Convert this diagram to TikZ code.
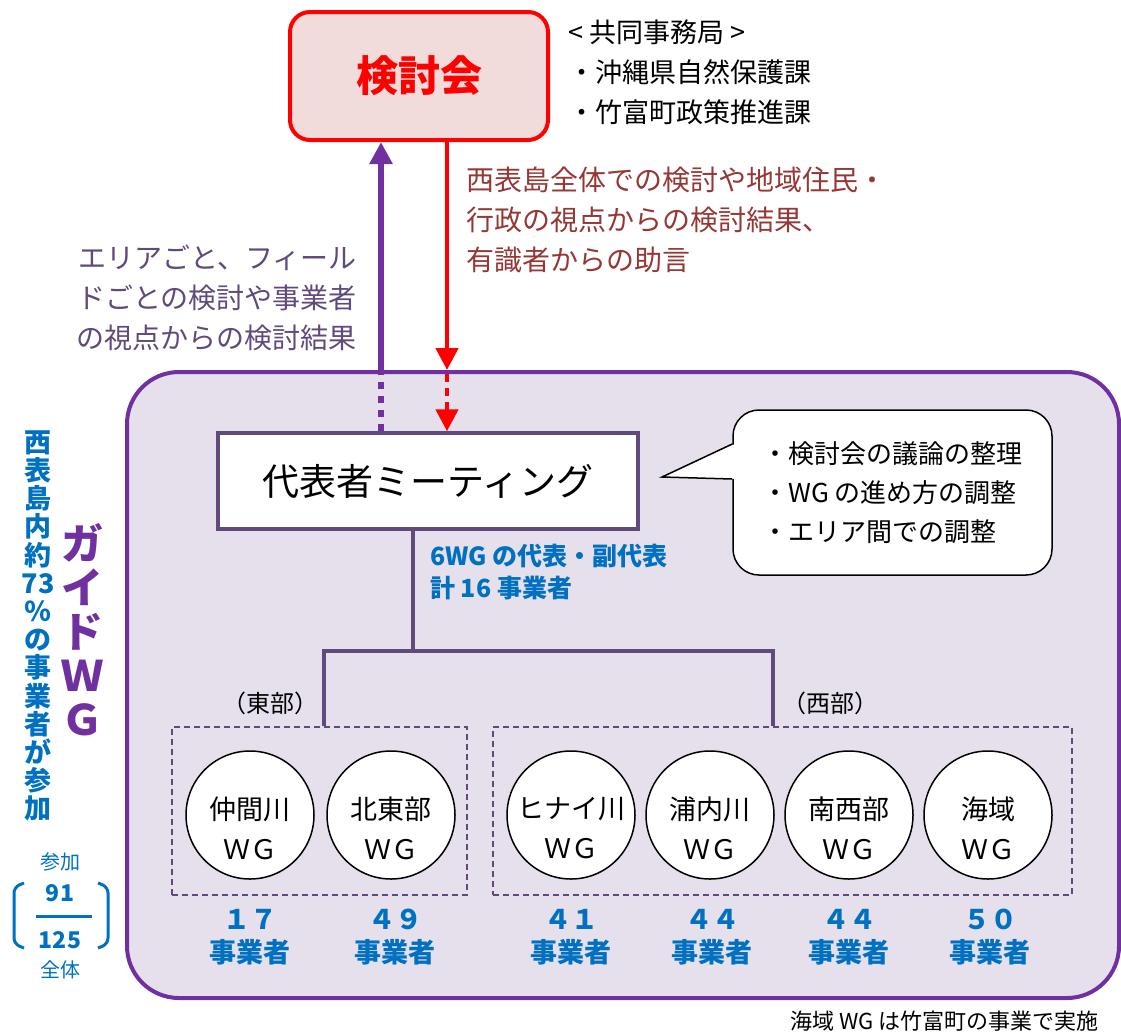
\documentclass[tikz,border=0pt]{standalone}
\usepackage{fontspec}
\setmainfont{Noto Sans CJK JP}
\usetikzlibrary{arrows.meta,positioning}

\definecolor{kenred}{HTML}{FF0000}
\definecolor{kenpink}{HTML}{F2DCDB}
\definecolor{guidepurple}{HTML}{7030A0}
\definecolor{framegray}{HTML}{604A7B}
\definecolor{areafill}{HTML}{E5E0EC}
\definecolor{wgblue}{HTML}{0070C0}
\definecolor{resultbrown}{HTML}{953735}

\begin{document}
\begin{tikzpicture}[
        x=1pt, y=-1pt,
        font=\fontsize{24}{28}\selectfont,
        ken_box/.style={
            draw=kenred, fill=kenpink,
            line width=4pt,
            rounded corners=20pt,
            minimum width=258pt, minimum height=128pt,
            text=kenred,
            font=\fontsize{42}{46}\selectfont\bfseries
        },
        area_box/.style={
            draw=guidepurple, fill=areafill,
            line width=4pt,
            rounded corners=52pt,
            minimum width=992pt, minimum height=626pt
        },
        mtg_box/.style={
            draw=framegray, fill=white,
            line width=3.5pt,
            minimum width=420pt, minimum height=96pt,
            font=\fontsize{37}{40}\selectfont
        },
        bubble_box/.style={
            draw=black, fill=white,
            line width=1.5pt,
            rounded corners=26pt,
            minimum width=319pt, minimum height=165pt,
            align=left,
            font=\fontsize{26}{39}\selectfont
        },
        part_box/.style={
            draw=framegray,
            dash pattern=on 6pt off 4pt,
            line width=2pt,
            minimum height=168pt
        },
        wg_circle/.style={
            draw=black, fill=white,
            circle,
            line width=1.5pt,
            minimum size=128pt,
            inner sep=0pt
        },
        wg_text/.style={
            align=center,
            font=\fontsize{27}{40}\selectfont
        },
        count_label/.style={
            text=wgblue, align=center,
            font=\fontsize{27}{33}\selectfont\bfseries
        },
        side_text/.style={
            align=left, anchor=west, inner sep=0pt,
            font=\fontsize{27}{40}\selectfont
        },
        tree_line/.style={
            draw=framegray,
            line width=3.5pt
        },
        up_arrow/.style={
            draw=guidepurple,
            line width=6pt,
            -{Triangle[length=22pt, width=22pt]}
        },
        down_arrow/.style={
            draw=kenred,
            line width=4.5pt,
            -{Triangle[length=22pt, width=22pt]}
        },
        frac_text/.style={
            text=wgblue,
            inner sep=0pt
        }
    ]
        \useasboundingbox (0,0) rectangle (1121,1034);

        % groups
        \node[area_box] (guide) at (623,685) {};
        \node[ken_box] (ken) at (419,76) {検討会};
        \node[mtg_box] (mtg) at (428,481) {代表者ミーティング};

        % secretariat
        \node[side_text] (office) at (568,72) {< 共同事務局 >\\・沖縄県自然保護課\\・竹富町政策推進課};

        % feedback texts
        \node[side_text, anchor=east, align=right, text=framegray, font=\fontsize{28}{40}\selectfont]
            (wg_result) at (357,298) {エリアごと、フィール\\ドごとの検討や事業者\\の視点からの検討結果};
        \node[side_text, text=resultbrown, font=\fontsize{28}{40}\selectfont]
            (ken_result) at (466,220) {西表島全体での検討や地域住民・\\行政の視点からの検討結果、\\有識者からの助言};

        % arrows between ken and mtg
        \coordinate (up_low) at ([xshift=-47pt]mtg.north);
        \coordinate (up_top) at ([xshift=-38pt]ken.south);
        \coordinate (down_top) at ([xshift=28pt]ken.south);
        \coordinate (down_low) at ([xshift=19pt]mtg.north);

        \draw[draw=guidepurple, line width=6pt, dash pattern=on 7pt off 7pt]
            (up_low) -- ([yshift=-4pt]up_low |- guide.north);
        \draw[up_arrow] (up_low |- guide.north) -- (up_top);
        \draw[down_arrow] (down_top) -- (down_top |- guide.north);
        \draw[down_arrow, dash pattern=on 8pt off 6pt]
            ([yshift=-4pt]down_top |- guide.north) -- (down_low);

        % speech bubble
        \node[bubble_box] (tasks) at (892.5,492.5) {・検討会の議論の整理\\・WG の進め方の調整\\・エリア間での調整};
        \fill[white] (735,444) -- (662,477) -- (735,479) -- cycle;
        \draw[line width=1.5pt, line join=miter] (tasks.west |- 0,444) -- (662,477) -- (tasks.west |- 0,479);

        % representatives
        \node[side_text, text=wgblue, font=\fontsize{25}{32}\selectfont\bfseries]
            (reps) at (430,572) {6WG の代表・副代表\\計 16 事業者};

        % east and west
        \node[part_box, minimum width=295pt] (east) at (319.5,811) {};
        \node[part_box, minimum width=579pt] (west) at (782.5,811) {};
        \node (east_lbl) at (270,703) {（東部）};
        \node (west_lbl) at (830,703) {（西部）};

        \coordinate (split) at ([xshift=-15pt]mtg.south |- 0,651);
        \draw[tree_line] ([xshift=-15pt]mtg.south) -- (split);
        \draw[tree_line] ([xshift=4.5pt]east.north) |- (split) -| ([xshift=-9.5pt]west.north);

        % working groups
        \node[wg_circle] (nakama) at (250,815) {};
        \node[wg_circle] (hokuto) at (391,815) {};
        \node[wg_circle] (hinai) at (571,815) {};
        \node[wg_circle] (urauchi) at (710,815) {};
        \node[wg_circle] (nansei) at (849,815) {};
        \node[wg_circle] (kaiiki) at (988,815) {};

        \node[wg_text] at ([yshift=-13pt]nakama.center) {仲間川\\ＷＧ};
        \node[wg_text] at ([yshift=-13pt]hokuto.center) {北東部\\ＷＧ};
        \node[wg_text] at ([yshift=-13pt]hinai.center) {ヒナイ川\\ＷＧ};
        \node[wg_text] at ([yshift=-13pt]urauchi.center) {浦内川\\ＷＧ};
        \node[wg_text] at ([yshift=-13pt]nansei.center) {南西部\\ＷＧ};
        \node[wg_text] at ([yshift=-13pt]kaiiki.center) {海域\\ＷＧ};

        \node[count_label] at (250,937) {１７\\事業者};
        \node[count_label] at (395,937) {４９\\事業者};
        \node[count_label] at (571,937) {４１\\事業者};
        \node[count_label] at (712,937) {４４\\事業者};
        \node[count_label] at (849,937) {４４\\事業者};
        \node[count_label] at (990,937) {５０\\事業者};

        % left side
        \node[text=wgblue, align=center, font=\fontsize{27}{28.2}\selectfont\bfseries]
            (ratio) at (38,626) {西\\表\\島\\内\\約\\73\\％\\の\\事\\業\\者\\が\\参\\加};
        \node[text=guidepurple, align=center, font=\fontsize{42}{44}\selectfont\bfseries]
            (guide_lbl) at (82,630) {ガ\\イ\\ド\\Ｗ\\Ｇ};

        \node[frac_text, font=\fontsize{20}{24}\selectfont] (join_lbl) at (60,862) {参加};
        \node[frac_text, font=\fontsize{23}{24}\selectfont\bfseries] (join_num) at (60,893) {91};
        \node[frac_text, font=\fontsize{23}{24}\selectfont\bfseries] (total_num) at (60,940) {125};
        \node[frac_text, font=\fontsize{20}{24}\selectfont] (total_lbl) at (60,970) {全体};
        \draw[wgblue, line width=3pt] (36,916) -- (92,916);
        \draw[wgblue, line width=3pt, rounded corners=6pt] (24,883) -- (14,887) -- (14,944) -- (24,948);
        \draw[wgblue, line width=3pt, rounded corners=6pt] (98,883) -- (108,887) -- (108,944) -- (98,948);

        % note
        \node[anchor=east, font=\fontsize{22}{24}\selectfont] (note) at (1102,1021) {海域 WG は竹富町の事業で実施};
    \end{tikzpicture}
\end{document}
